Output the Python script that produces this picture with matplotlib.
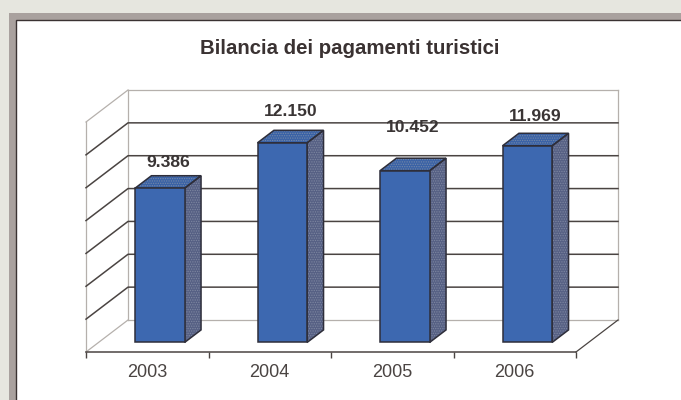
import matplotlib
matplotlib.use('Agg')
import matplotlib.pyplot as plt
from matplotlib.patches import Polygon, Rectangle

# dati
anni = ['2003', '2004', '2005', '2006']
valori = [9386, 12150, 10452, 11969]
etichette = ['9.386', '12.150', '10.452', '11.969']
griglia = [2000, 4000, 6000, 8000, 10000, 12000]

plt.rcParams['font.family'] = ['Liberation Sans', 'DejaVu Sans']
plt.rcParams['hatch.linewidth'] = 0.6

W, H = 681, 400
fig = plt.figure(figsize=(W / 100, H / 100), dpi=100, facecolor='#e6e6df')

# cornice
fig.add_artist(Rectangle((9 / W, -0.1), 1, 1.1 - 13 / H, transform=fig.transFigure, fc='#a9a19e', ec='none', zorder=-2))
fig.add_artist(Rectangle((16 / W, -0.1), 1, 1.1 - 20 / H, transform=fig.transFigure, fc='white', ec='#3a3232', lw=1, zorder=-1))

ax = fig.add_axes([86 / W, 48 / H, 490 / W, 230 / H])
ax.patch.set_visible(False)
ax.set_xlim(0, 4)
ax.set_ylim(0, 14000)

# profondita' del grafico 3D in unita' dei dati
DX = 42 / 122.5
DY = 32 * 14000 / 230


def p(x, y, d=0.0):
    return (x + d * DX, y + d * DY)


GRIGIO = '#b5b0ac'
SCURO = '#4a4442'

# pareti e pavimento
ymax = 14000
for a, b in [(p(0, 0), p(0, ymax)), (p(0, 0, 1), p(0, ymax, 1)), (p(0, ymax), p(0, ymax, 1)),
             (p(0, ymax, 1), p(4, ymax, 1)), (p(4, ymax, 1), p(4, 0, 1)), (p(0, 0, 1), p(4, 0, 1)),
             (p(0, 0), p(0, 0, 1))]:
    ax.plot([a[0], b[0]], [a[1], b[1]], color=GRIGIO, lw=0.9, clip_on=False, zorder=1)
a, b = p(4, 0), p(4, 0, 1)
ax.plot([a[0], b[0]], [a[1], b[1]], color=SCURO, lw=0.9, clip_on=False, zorder=1)

# griglia
for g in griglia:
    a, b, c = p(0, g), p(0, g, 1), p(4, g, 1)
    ax.plot([a[0], b[0], c[0]], [a[1], b[1], c[1]], color=SCURO, lw=1.1, clip_on=False, zorder=2)

# barre
larg = 0.405
d1, d2 = 0.30, 0.69
spost = [26, 32, 44, 30]
for i, v in enumerate(valori):
    x0 = i + 0.5 - larg / 2
    x1 = i + 0.5 + larg / 2
    fronte = [p(x0, 0, d1), p(x1, 0, d1), p(x1, v, d1), p(x0, v, d1)]
    lato = [p(x1, 0, d1), p(x1, 0, d2), p(x1, v, d2), p(x1, v, d1)]
    sopra = [p(x0, v, d1), p(x1, v, d1), p(x1, v, d2), p(x0, v, d2)]
    for pts, col, trat in [(lato, '#566084', '#7d86a0'), (sopra, '#3a62a6', '#7488a8')]:
        ax.add_patch(Polygon(pts, fc=col, ec=trat, lw=0, hatch='.......', clip_on=False, zorder=3))
        ax.add_patch(Polygon(pts, fc='none', ec='#2e2e3a', lw=1.1, clip_on=False, zorder=4))
    ax.add_patch(Polygon(fronte, fc='#3d68b0', ec='#2e2e3a', lw=1.1, clip_on=False, zorder=5))
    xc, yc = p(i + 0.5, v, d1)
    ax.annotate(etichette[i], (xc, yc), xytext=(8 * 0.72, (spost[i] - 0.5) * 0.72), textcoords='offset points',
                ha='center', va='center', fontsize=12.6, fontweight='bold', color='#3a3535', zorder=6,
                annotation_clip=False)

# assi
for s in ['top', 'left', 'right']:
    ax.spines[s].set_visible(False)
ax.spines['bottom'].set_color(SCURO)
ax.spines['bottom'].set_linewidth(1.1)
ax.set_yticks([])
ax.set_xticks([0, 1, 2, 3, 4])
ax.set_xticklabels([])
ax.set_xticks([0.5, 1.5, 2.5, 3.5], anni, minor=True)
ax.tick_params(axis='x', which='major', length=4, width=1, color=SCURO)
ax.tick_params(axis='x', which='minor', length=0, pad=8.5, labelsize=13, labelcolor='#4a4442')

fig.text(349.5 / W, 1 - 48.5 / H, 'Bilancia dei pagamenti turistici', ha='center', va='center',
         fontsize=14.7, fontweight='bold', color='#3a3232')

fig.savefig('out.png', dpi=100, facecolor=fig.get_facecolor())
